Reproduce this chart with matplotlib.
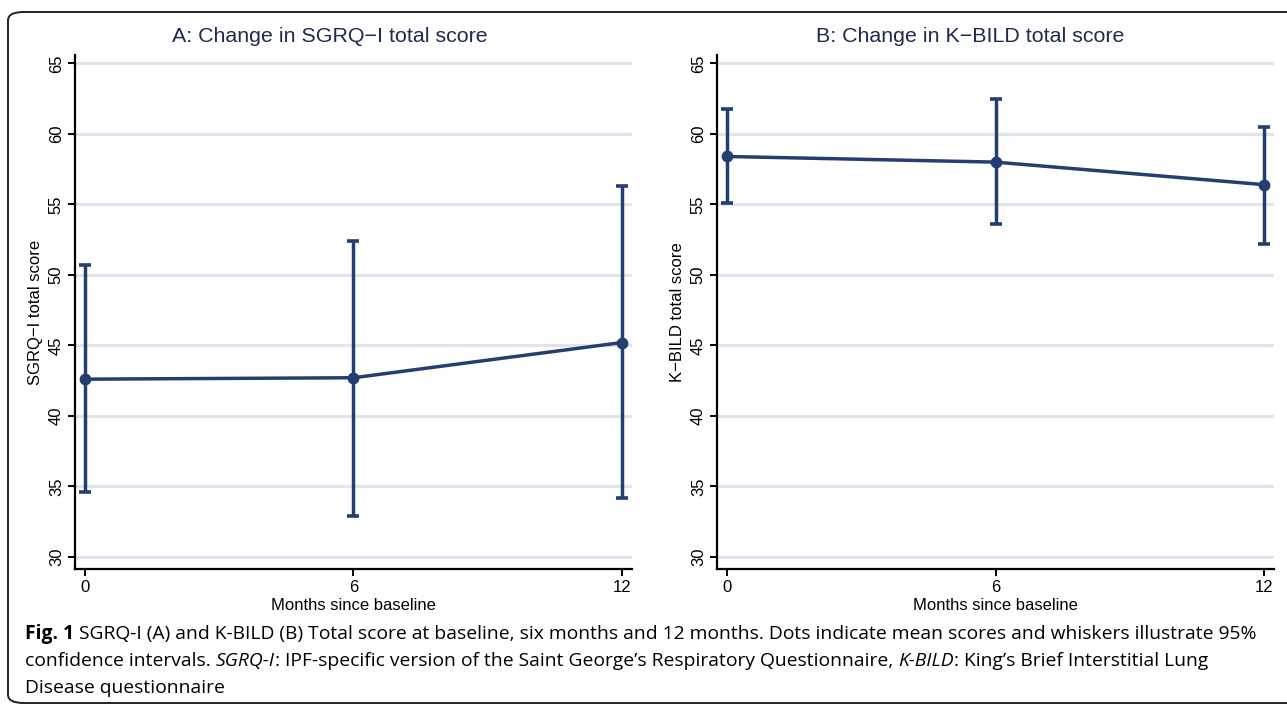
import matplotlib
matplotlib.use("Agg")
from matplotlib import pyplot as plt
from matplotlib.patches import FancyBboxPatch

# months since baseline
months = [0, 6, 12]

# A: SGRQ-I total score (mean and 95% CI)
sgrq_mean = [42.6, 42.7, 45.2]
sgrq_lo = [34.6, 32.9, 34.2]
sgrq_hi = [50.7, 52.4, 56.3]

# B: K-BILD total score (mean and 95% CI)
kbild_mean = [58.4, 58.0, 56.4]
kbild_lo = [55.1, 53.6, 52.2]
kbild_hi = [61.8, 62.5, 60.5]

y_ticks = [30, 35, 40, 45, 50, 55, 60, 65]

navy = "#233e6f"
grid_col = "#dfe4ef"
title_col = "#1e2b4f"

plt.rcParams['font.family'] = ['Liberation Sans', 'DejaVu Sans']

fig = plt.figure(figsize=(12.87, 7.06), dpi=100)

# rounded frame round the whole figure
frame = FancyBboxPatch((8 / 1287, 3 / 706), 1.02, 691 / 706,
                       boxstyle="round,pad=0,rounding_size=0.012",
                       transform=fig.transFigure, fill=False,
                       edgecolor="#222222", linewidth=1.4, clip_on=False)
fig.patches.append(frame)


def draw_panel(left, mean, lo, hi, ylabel, title, title_x):
    ax = fig.add_axes([left / 1287, 137 / 706, 557 / 1287, 514 / 706])
    err = [[m - l for m, l in zip(mean, lo)], [h - m for m, h in zip(mean, hi)]]
    for t in y_ticks:
        ax.axhline(t, color=grid_col, lw=2.2, zorder=0)
    ax.errorbar(months, mean, yerr=err, color=navy, lw=2.5, elinewidth=2.5,
                capsize=4, capthick=2.6, marker="o", markersize=7.5, zorder=3)
    ax.set_xlim(-0.22, 12.22)
    ax.set_ylim(29.13, 65.6)
    ax.set_xticks(months)
    ax.set_yticks(y_ticks)
    ax.set_yticklabels([str(t) for t in y_ticks], rotation=90, va="center")
    ax.tick_params(axis="both", direction="out", length=5, width=1.4,
                   labelsize=12, colors="black", pad=3)
    for s in ["top", "right"]:
        ax.spines[s].set_visible(False)
    for s in ["left", "bottom"]:
        ax.spines[s].set_linewidth(1.6)
    ax.set_xlabel("Months since baseline", fontsize=12, labelpad=2)
    ax.set_ylabel(ylabel, fontsize=12, labelpad=4)
    fig.text(title_x / 1287, 1 - 36 / 706, title, ha="center", va="center",
             fontsize=15.4, color=title_col)
    return ax


draw_panel(75, sgrq_mean, sgrq_lo, sgrq_hi, "SGRQ\u2212I total score",
           "A: Change in SGRQ\u2212I total score", 330)
draw_panel(717, kbild_mean, kbild_lo, kbild_hi, "K\u2212BILD total score",
           "B: Change in K\u2212BILD total score", 970)

# caption
cap_font = ['Open Sans', 'DejaVu Sans']
cap_size = 13.9
x0 = 25 / 1287
t = fig.text(x0, 1 - 634 / 706, "Fig. 1", fontsize=cap_size, fontweight="bold",
             family=cap_font, va="center", ha="left")
fig.canvas.draw()
bb = t.get_window_extent()
fig.text(bb.x1 / 1287 + 0.004, 1 - 634 / 706,
         "SGRQ-I (A) and K-BILD (B) Total score at baseline, six months and 12 months. "
         "Dots indicate mean scores and whiskers illustrate 95%",
         fontsize=cap_size, family=cap_font, va="center", ha="left")
t2 = fig.text(x0, 1 - 661 / 706, "confidence intervals. ", fontsize=cap_size,
              family=cap_font, va="center", ha="left")
fig.canvas.draw()
xe = t2.get_window_extent().x1
parts = [("SGRQ-I", "italic"), (": IPF-specific version of the Saint George\u2019s Respiratory Questionnaire, ", "normal"),
         ("K-BILD", "italic"), (": King\u2019s Brief Interstitial Lung", "normal")]
for txt, style in parts:
    tt = fig.text(xe / 1287, 1 - 661 / 706, txt, fontsize=cap_size, family=cap_font,
                  style=style, va="center", ha="left")
    fig.canvas.draw()
    xe = tt.get_window_extent().x1
fig.text(x0, 1 - 688 / 706, "Disease questionnaire", fontsize=cap_size,
         family=cap_font, va="center", ha="left")

plt.savefig("out.png", dpi=100)
